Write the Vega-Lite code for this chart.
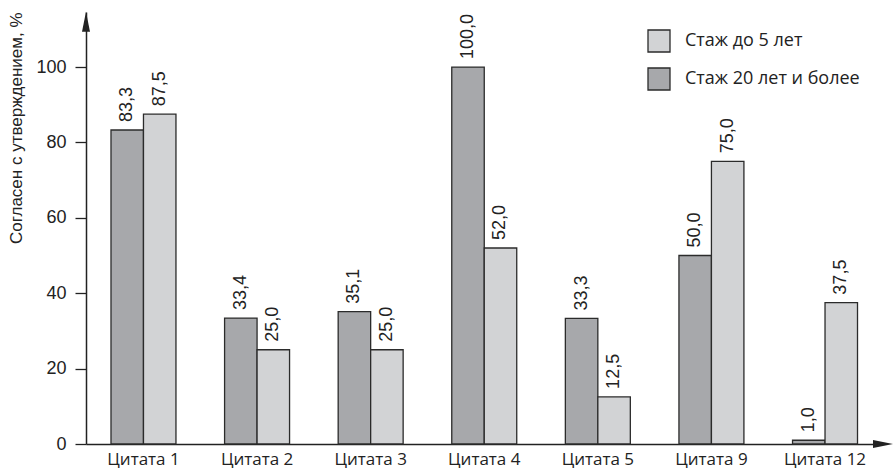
{
  "$schema": "https://vega.github.io/schema/vega-lite/v6.json",
  "width": 796.5,
  "height": 432,
  "autosize": {"type": "none"},
  "padding": {"left": 86, "top": 12, "right": 12.5, "bottom": 27},
  "background": "white",
  "config": {
    "view": {"stroke": null},
    "locale": {
      "number": {"decimal": ",", "thousands": " ", "grouping": [3], "currency": ["", ""]}
    }
  },
  "datasets": {
    "survey": [
      {"quote": "Цитата 1", "group": "Стаж 20 лет и более", "value": 83.3},
      {"quote": "Цитата 1", "group": "Стаж до 5 лет", "value": 87.5},
      {"quote": "Цитата 2", "group": "Стаж 20 лет и более", "value": 33.4},
      {"quote": "Цитата 2", "group": "Стаж до 5 лет", "value": 25.0},
      {"quote": "Цитата 3", "group": "Стаж 20 лет и более", "value": 35.1},
      {"quote": "Цитата 3", "group": "Стаж до 5 лет", "value": 25.0},
      {"quote": "Цитата 4", "group": "Стаж 20 лет и более", "value": 100.0},
      {"quote": "Цитата 4", "group": "Стаж до 5 лет", "value": 52.0},
      {"quote": "Цитата 5", "group": "Стаж 20 лет и более", "value": 33.3},
      {"quote": "Цитата 5", "group": "Стаж до 5 лет", "value": 12.5},
      {"quote": "Цитата 9", "group": "Стаж 20 лет и более", "value": 50.0},
      {"quote": "Цитата 9", "group": "Стаж до 5 лет", "value": 75.0},
      {"quote": "Цитата 12", "group": "Стаж 20 лет и более", "value": 1.0},
      {"quote": "Цитата 12", "group": "Стаж до 5 лет", "value": 37.5}
    ]
  },
  "layer": [
    {
      "data": {"name": "survey"},
      "mark": {"type": "bar", "stroke": "#2b2b2b", "strokeWidth": 1.3},
      "encoding": {
        "x": {
          "field": "quote",
          "type": "nominal",
          "sort": null,
          "scale": {"paddingInner": 0.428, "paddingOuter": 0.22},
          "axis": {
            "title": null,
            "labelAngle": 0,
            "ticks": false,
            "labelFont": "Open Sans",
            "labelFontSize": 17,
            "labelColor": "#222222",
            "labelPadding": 7,
            "domainColor": "#222222",
            "domainWidth": 1.5
          }
        },
        "xOffset": {
          "field": "group",
          "scale": {"domain": ["Стаж 20 лет и более", "Стаж до 5 лет"], "paddingInner": 0, "paddingOuter": 0}
        },
        "y": {
          "field": "value",
          "type": "quantitative",
          "scale": {"domain": [0, 114.6], "nice": false},
          "axis": {
            "values": [0, 20, 40, 60, 80, 100],
            "grid": false,
            "title": "Согласен с утверждением, %",
            "titleFont": "Liberation Sans",
            "titleFontSize": 17,
            "titleFontWeight": "normal",
            "titleColor": "#222222",
            "titleAnchor": "end",
            "titlePadding": 10,
            "labelFont": "Liberation Sans",
            "labelFontSize": 18,
            "labelColor": "#222222",
            "labelPadding": 9,
            "tickSize": 11,
            "tickColor": "#222222",
            "tickWidth": 1.3,
            "domainColor": "#222222",
            "domainWidth": 1.5
          }
        },
        "color": {
          "field": "group",
          "type": "nominal",
          "scale": {"domain": ["Стаж до 5 лет", "Стаж 20 лет и более"], "range": ["#d2d3d5", "#a7a8ab"]},
          "legend": {
            "title": null,
            "orient": "none",
            "legendX": 561,
            "legendY": 17,
            "symbolType": "square",
            "symbolSize": 484,
            "symbolStrokeColor": "#2b2b2b",
            "symbolStrokeWidth": 1.3,
            "labelFont": "Open Sans",
            "labelFontSize": 18,
            "labelColor": "#222222",
            "labelLimit": 0,
            "labelOffset": 14,
            "rowPadding": 10
          }
        }
      }
    },
    {
      "data": {"name": "survey"},
      "mark": {"type": "text", "angle": 270, "align": "left", "baseline": "middle", "dx": 8, "font": "Liberation Sans", "fontSize": 18, "fill": "#222222"},
      "encoding": {
        "x": {"field": "quote", "type": "nominal", "sort": null},
        "xOffset": {"field": "group"},
        "y": {"field": "value", "type": "quantitative"},
        "text": {"field": "value", "type": "quantitative", "format": ".1f"}
      }
    },
    {
      "data": {"values": [{}]},
      "mark": {"type": "point", "shape": "M0,-1L0.4,1L-0.4,1Z", "size": 400, "filled": true, "color": "#222222", "opacity": 1},
      "encoding": {
        "x": {"value": 0},
        "y": {"datum": 112}
      }
    },
    {
      "data": {"values": [{}]},
      "mark": {"type": "point", "shape": "M1,0L-1,0.4L-1,-0.4Z", "size": 400, "filled": true, "color": "#222222", "opacity": 1},
      "encoding": {
        "x": {"value": 797},
        "y": {"datum": 0}
      }
    }
  ]
}
